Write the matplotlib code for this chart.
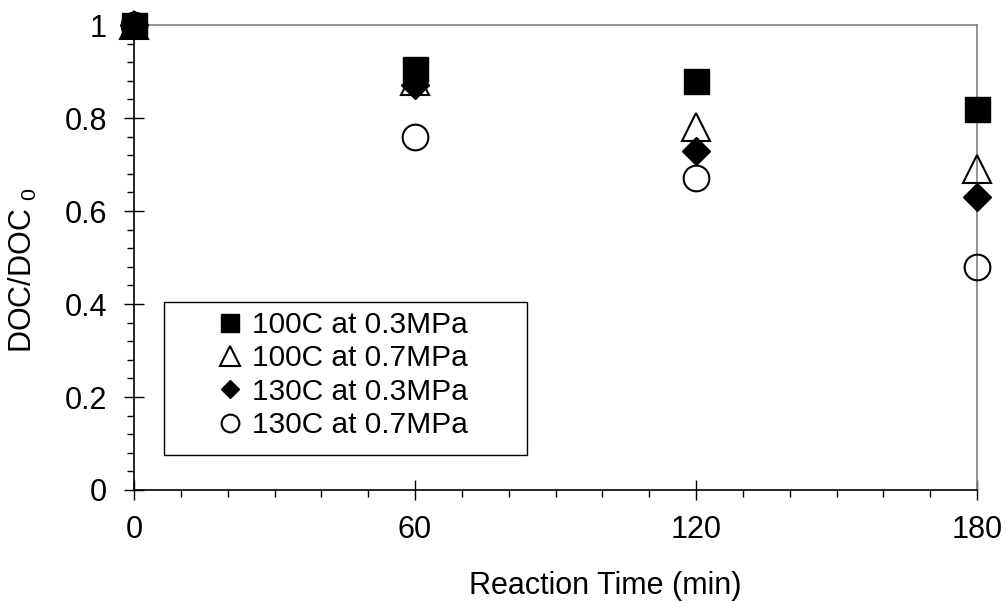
import matplotlib.pyplot as plt
from matplotlib.patches import Rectangle
from matplotlib.ticker import MultipleLocator

plt.rcParams['font.family'] = ['Liberation Sans', 'DejaVu Sans']
plt.rcParams['mathtext.fontset'] = 'custom'
plt.rcParams['mathtext.rm'] = 'Liberation Sans'

# reaction time (min)
times = [0, 60, 120, 180]

# DOC/DOC0 for each condition
doc_100_03 = [1.0, 0.905, 0.88, 0.82]
doc_100_07 = [1.0, 0.88, 0.78, 0.69]
doc_130_03 = [1.0, 0.87, 0.73, 0.63]
doc_130_07 = [1.0, 0.76, 0.67, 0.48]

labels = ['100C at 0.3MPa', '100C at 0.7MPa', '130C at 0.3MPa', '130C at 0.7MPa']

fig = plt.figure(figsize=(10.06, 6.03), dpi=100)
ax = fig.add_axes([0.1332, 0.1874, 0.838, 0.7711])

# open markers first, filled markers on top
ax.plot(times, doc_100_07, linestyle='none', marker='^', ms=20, mfc='none', mec='black',
        mew=1.5, label=labels[1], clip_on=False, zorder=3)
ax.plot(times, doc_130_07, linestyle='none', marker='o', ms=18.5, mfc='none', mec='black',
        mew=1.5, label=labels[3], clip_on=False, zorder=3)
ax.plot(times, doc_130_03, linestyle='none', marker='D', ms=14, mfc='black', mec='black',
        mew=1, label=labels[2], clip_on=False, zorder=4)
ax.plot(times, doc_100_03, linestyle='none', marker='s', ms=18, mfc='black', mec='black',
        mew=1, label=labels[0], clip_on=False, zorder=5)

ax.set_xlim(0, 180)
ax.set_ylim(0, 1)
ax.xaxis.set_major_locator(MultipleLocator(60))
ax.xaxis.set_minor_locator(MultipleLocator(10))
ax.yaxis.set_minor_locator(MultipleLocator(0.04))
ax.set_yticks([0, 0.2, 0.4, 0.6, 0.8, 1.0])
ax.set_yticklabels(['0', '0.2', '0.4', '0.6', '0.8', '1'])

ax.tick_params(which='major', direction='inout', length=15, width=1, labelsize=22)
ax.tick_params(which='minor', direction='out', length=5, width=1)
ax.tick_params(axis='y', which='major', pad=12)
ax.tick_params(axis='x', which='major', pad=10.5)

for side in ['left', 'bottom']:
    ax.spines[side].set_color('black')
    ax.spines[side].set_linewidth(1.2)
for side in ['top', 'right']:
    ax.spines[side].set_color('#808080')
    ax.spines[side].set_linewidth(1.2)

ax.set_xlabel('Reaction Time (min)', fontsize=22)
ax.xaxis.set_label_coords(0.5587, -0.174)
ax.set_ylabel('DOC/DOC $_0$', fontsize=22)
ax.yaxis.set_label_coords(-0.113, 0.473)

# legend: frame drawn separately, entries placed inside it
ax.add_patch(Rectangle((0.0356, 0.0753), 0.4306, 0.329, transform=ax.transAxes,
                       facecolor='white', edgecolor='black', linewidth=1, zorder=6))
handles, labs = ax.get_legend_handles_labels()
order = [3, 0, 2, 1]
leg = ax.legend([handles[i] for i in order], [labs[i] for i in order],
                loc='upper left', bbox_to_anchor=(0.0961, 0.385), fontsize=21.5,
                markerscale=0.69, handlelength=1.0, handletextpad=0.24,
                labelspacing=0.18, borderpad=0, frameon=False, borderaxespad=0)
leg.set_zorder(7)

fig.savefig('out.png', dpi=100)
